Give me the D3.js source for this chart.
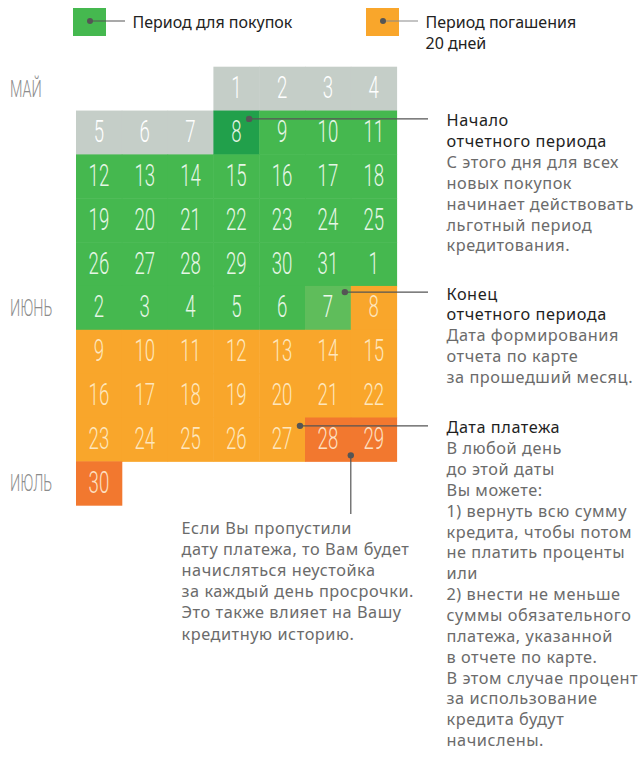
<!DOCTYPE html>
<html lang="ru">
<head>
<meta charset="utf-8">
<title>Льготный период</title>
<script src="https://cdn.jsdelivr.net/npm/d3@7"></script>
<style>
  body { margin: 0; background: #fff; }
  svg text { font-family: "Noto Sans", "Open Sans", sans-serif; }
  .num, .month { font-family: Roboto, "DejaVu Sans", sans-serif; font-weight: 300; }
  .note { letter-spacing: 0.55px; }
</style>
</head>
<body>
<div id="chart"></div>
<script>
// calendar rows (Mon..Sun), empty string = no day
var weeks = [
  ["", "", "", 1, 2, 3, 4],
  [5, 6, 7, 8, 9, 10, 11],
  [12, 13, 14, 15, 16, 17, 18],
  [19, 20, 21, 22, 23, 24, 25],
  [26, 27, 28, 29, 30, 31, 1],
  [2, 3, 4, 5, 6, 7, 8],
  [9, 10, 11, 12, 13, 14, 15],
  [16, 17, 18, 19, 20, 21, 22],
  [23, 24, 25, 26, 27, 28, 29],
  [30, "", "", "", "", "", ""]
];
// cell kind per row: g = before, D = start, G = purchase, L = end, O = repay, R = overdue
var kinds = [
  "   gggg",
  "gggDGGG",
  "GGGGGGG",
  "GGGGGGG",
  "GGGGGGG",
  "GGGGGLO",
  "OOOOOOO",
  "OOOOOOO",
  "OOOOORR",
  "R      "
];
var months = [
  { label: "МАЙ", row: 0 },
  { label: "ИЮНЬ", row: 5 },
  { label: "ИЮЛЬ", row: 9 }
];
var legend = [
  { kind: "G", lines: ["Период для покупок"] },
  { kind: "O", lines: ["Период погашения", "20 дней"] }
];
// side notes: anchor cell + where on it the dot sits
var notes = [
  { row: 1, col: 3, fx: 0.78, fy: 0.19, title: ["Начало", "отчетного периода"],
    body: ["С этого дня для всех", "новых покупок", "начинает действовать", "льготный период", "кредитования."] },
  { row: 5, col: 5, fx: 0.87, fy: 0.14, title: ["Конец", "отчетного периода"],
    body: ["Дата формирования", "отчета по карте", "за прошедший месяц."] },
  { row: 8, col: 4, fx: 0.89, fy: 0.19, title: ["Дата платежа"],
    body: ["В любой день", "до этой даты", "Вы можете:", "1) вернуть всю сумму", "кредита, чтобы потом",
      "не платить проценты", "или", "2) внести не меньше", "суммы обязательного", "платежа, указанной",
      "в отчете по карте.", "В этом случае процент", "за использование", "кредита будут", "начислены."] }
];
var overdueNote = ["Если Вы пропустили", "дату платежа, то Вам будет", "начисляться неустойка",
  "за каждый день просрочки.", "Это также влияет на Вашу", "кредитную историю."];

var fill = { g: "#c5cec8", D: "#21a04b", G: "#45b84f", L: "#5fbd5b", O: "#f9a62b", R: "#f2782f" };
var ink = { g: "#ffffff", D: "#e2f4e2", G: "#e6f6e6", L: "#eef8ec", O: "#fee6bd", R: "#fde0c2" };

var W = 640, H = 757;
var svg = d3.select("#chart").append("svg").attr("width", W).attr("height", H);

var x = d3.scaleBand().domain(d3.range(7)).range([76, 396.6]);
var y = d3.scaleBand().domain(d3.range(weeks.length)).range([66.7, 505.2]);

var cells = [];
weeks.forEach(function(w, r) {
  w.forEach(function(d, c) {
    var k = kinds[r][c];
    if (k !== " ") cells.push({ row: r, col: c, day: d, kind: k });
  });
});

svg.append("g").selectAll("rect").data(cells).join("rect")
  .attr("x", function(d) { return x(d.col); })
  .attr("y", function(d) { return y(d.row); })
  .attr("width", x.bandwidth() + 0.5)
  .attr("height", y.bandwidth() + 0.5)
  .attr("fill", function(d) { return fill[d.kind]; });

svg.append("g").selectAll("text").data(cells).join("text")
  .attr("class", "num")
  .attr("transform", function(d) {
    return "translate(" + (x(d.col) + x.bandwidth() / 2) + "," + (y(d.row) + 31.5) + ") scale(0.6,1)";
  })
  .attr("text-anchor", "middle")
  .attr("font-size", 31)
  .attr("fill", function(d) { return ink[d.kind]; })
  .text(function(d) { return d.day; });

svg.append("g").selectAll("text").data(months).join("text")
  .attr("class", "month")
  .attr("transform", function(d) { return "translate(10," + (y(d.row) + 30) + ") scale(0.6,1)"; })
  .attr("font-size", 24)
  .attr("fill", "#8c8c8c")
  .text(function(d) { return d.label; });

// legend
var lg = svg.append("g").selectAll("g").data(legend).join("g")
  .attr("transform", function(d, i) { return "translate(" + (i ? 366 : 73) + ",8)"; });
lg.append("rect").attr("width", 33).attr("height", 28).attr("fill", function(d) { return fill[d.kind]; });
lg.append("line").attr("x1", 17).attr("x2", 52).attr("y1", 13).attr("y2", 13)
  .attr("stroke", function(d, i) { return i ? "#8a8a8a" : "#555"; }).attr("stroke-width", 1.2);
lg.append("circle").attr("cx", 17).attr("cy", 13).attr("r", 3).attr("fill", "#555");
lg.each(function(d) {
  d3.select(this).selectAll("text").data(d.lines).join("text")
    .attr("x", 59.5).attr("y", function(t, j) { return 20 + j * 21; })
    .attr("font-size", 16).attr("fill", "#222").text(function(t) { return t; });
});

// side notes
var tx = 446.5, lh = 20.85;
notes.forEach(function(n) {
  var dx = x(n.col) + x.bandwidth() * n.fx, dy = y(n.row) + y.bandwidth() * n.fy;
  svg.append("line").attr("x1", dx).attr("x2", 428).attr("y1", dy).attr("y2", dy)
    .attr("stroke", "#555").attr("stroke-width", 1.2);
  svg.append("circle").attr("cx", dx).attr("cy", dy).attr("r", 3.2).attr("fill", "#555");
  var t0 = dy + 7.5;
  var lines = n.title.map(function(s) { return { s: s, c: "#1f1f1f" }; })
    .concat(n.body.map(function(s) { return { s: s, c: "#6b6b6b" }; }));
  svg.append("g").selectAll("text").data(lines).join("text")
    .attr("class", "note")
    .attr("x", tx).attr("y", function(d, i) { return t0 + i * lh; })
    .attr("font-size", 16.3).attr("fill", function(d) { return d.c; })
    .text(function(d) { return d.s; });
});

// overdue note, hanging under the red cells
var ox = x(6), oy = y(8) + y.bandwidth() - 6;
svg.append("line").attr("x1", ox).attr("x2", ox).attr("y1", oy).attr("y2", 514)
  .attr("stroke", "#555").attr("stroke-width", 1.2);
svg.append("circle").attr("cx", ox).attr("cy", oy).attr("r", 3.2).attr("fill", "#555");
svg.append("g").selectAll("text").data(overdueNote).join("text")
  .attr("class", "note")
  .attr("x", 181.5).attr("y", function(d, i) { return 533.5 + i * 21.2; })
  .attr("font-size", 16.3).attr("fill", "#6b6b6b")
  .text(function(d) { return d; });
</script>
</body>
</html>
